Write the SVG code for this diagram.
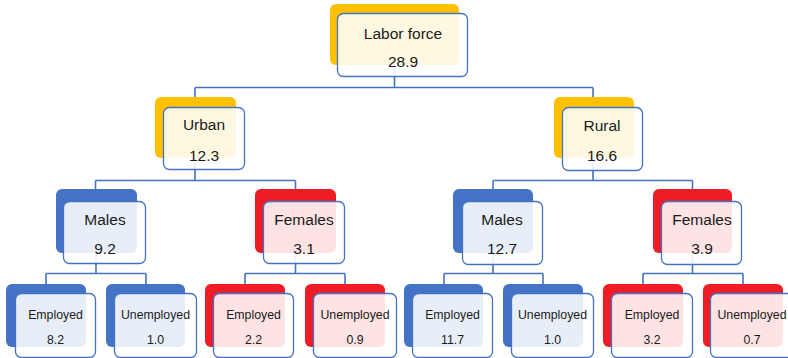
<svg xmlns="http://www.w3.org/2000/svg" width="788" height="358" viewBox="0 0 788 358">
<style>
.bo{fill:#FFC000}
.bb{fill:#4472C4}
.br{fill:#EE1C25}
.fr{fill:#FFFFFF;fill-opacity:0.88;stroke:#4472C4;stroke-width:1.3}
.t{font-family:"Liberation Sans",Arial,sans-serif;font-size:15.5px;fill:#1a1a1a;text-anchor:middle}
.s{font-family:"Liberation Sans",Arial,sans-serif;font-size:12.3px;fill:#1a1a1a;text-anchor:middle}
.c{fill:none;stroke:#4472C4;stroke-width:1.6}
</style>
<rect width="788" height="358" fill="#FFFFFF"/>
<g id="connectors" class="c">
<path d="M394.5,65 V87.5 M195,87.5 H593 M195,87.5 V100 M593,87.5 V100"/>
<path d="M195,158 V180.5 M95.5,180.5 H295.5 M95.5,180.5 V192 M295.5,180.5 V192"/>
<path d="M593,158 V180.5 M493,180.5 H692.5 M493,180.5 V192 M692.5,180.5 V192"/>
<path d="M96,253 V273.5 M46,273.5 H146 M46,273.5 V287 M146,273.5 V287"/>
<path d="M295.5,253 V273.5 M245,273.5 H345 M245,273.5 V287 M345,273.5 V287"/>
<path d="M493,253 V273.5 M444,273.5 H543 M444,273.5 V287 M543,273.5 V287"/>
<path d="M692.5,253 V273.5 M643,273.5 H743 M643,273.5 V287 M743,273.5 V287"/>
</g>
<g id="labor-force">
<rect class="bo" x="330" y="4" width="129" height="61" rx="6"/>
<rect class="fr" x="337.5" y="13.5" width="130" height="63" rx="6"/>
<text class="t" x="403" y="38.5">Labor force</text>
<text class="t" x="403" y="67">28.9</text>
</g>
<g id="urban">
<rect class="bo" x="155" y="97" width="81" height="61" rx="6"/>
<rect class="fr" x="163.5" y="107.5" width="81" height="62" rx="6"/>
<text class="t" x="204" y="129.5">Urban</text>
<text class="t" x="204" y="161">12.3</text>
</g>
<g id="rural">
<rect class="bo" x="554" y="97" width="80" height="61" rx="6"/>
<rect class="fr" x="562.5" y="107.5" width="80" height="63" rx="6"/>
<text class="t" x="602" y="131">Rural</text>
<text class="t" x="602" y="161">16.6</text>
</g>
<g id="urban-males">
<rect class="bb" x="56" y="189" width="81" height="64" rx="6"/>
<rect class="fr" x="63.5" y="201.5" width="82" height="62" rx="6"/>
<text class="t" x="105" y="225">Males</text>
<text class="t" x="105" y="254">9.2</text>
</g>
<g id="urban-females">
<rect class="br" x="255" y="189" width="81" height="64" rx="6"/>
<rect class="fr" x="263.5" y="201.5" width="81" height="62" rx="6"/>
<text class="t" x="304" y="225">Females</text>
<text class="t" x="304" y="254">3.1</text>
</g>
<g id="rural-males">
<rect class="bb" x="453" y="189" width="80" height="64" rx="6"/>
<rect class="fr" x="462.5" y="201.5" width="80" height="63" rx="6"/>
<text class="t" x="502" y="225">Males</text>
<text class="t" x="502" y="254">12.7</text>
</g>
<g id="rural-females">
<rect class="br" x="653" y="189" width="79" height="64" rx="6"/>
<rect class="fr" x="661.5" y="201.5" width="80" height="63" rx="6"/>
<text class="t" x="702" y="225">Females</text>
<text class="t" x="702" y="254">3.9</text>
</g>
<g id="um-employed">
<rect class="bb" x="6" y="284" width="80" height="63" rx="6"/>
<rect class="fr" x="15.5" y="293.5" width="80" height="64" rx="6"/>
<text class="s" x="55.5" y="319">Employed</text>
<text class="s" x="55.5" y="344">8.2</text>
</g>
<g id="um-unemployed">
<rect class="bb" x="106" y="284" width="79" height="63" rx="6"/>
<rect class="fr" x="114.5" y="293.5" width="82" height="64" rx="6"/>
<text class="s" x="155.5" y="319">Unemployed</text>
<text class="s" x="155.5" y="344">1.0</text>
</g>
<g id="uf-employed">
<rect class="br" x="205" y="284" width="80" height="63" rx="6"/>
<rect class="fr" x="213.5" y="293.5" width="80" height="64" rx="6"/>
<text class="s" x="253.5" y="319">Employed</text>
<text class="s" x="253.5" y="344">2.2</text>
</g>
<g id="uf-unemployed">
<rect class="br" x="305" y="284" width="80" height="63" rx="6"/>
<rect class="fr" x="313.5" y="293.5" width="83" height="64" rx="6"/>
<text class="s" x="355" y="319">Unemployed</text>
<text class="s" x="355" y="344">0.9</text>
</g>
<g id="rm-employed">
<rect class="bb" x="404" y="284" width="79" height="63" rx="6"/>
<rect class="fr" x="412.5" y="293.5" width="80" height="64" rx="6"/>
<text class="s" x="452.5" y="319">Employed</text>
<text class="s" x="452.5" y="344">11.7</text>
</g>
<g id="rm-unemployed">
<rect class="bb" x="503" y="284" width="80" height="63" rx="6"/>
<rect class="fr" x="511.5" y="293.5" width="82" height="64" rx="6"/>
<text class="s" x="552.5" y="319">Unemployed</text>
<text class="s" x="552.5" y="344">1.0</text>
</g>
<g id="rf-employed">
<rect class="br" x="603" y="284" width="80" height="63" rx="6"/>
<rect class="fr" x="611.5" y="293.5" width="81" height="64" rx="6"/>
<text class="s" x="652" y="319">Employed</text>
<text class="s" x="652" y="344">3.2</text>
</g>
<g id="rf-unemployed">
<rect class="br" x="703" y="284" width="80" height="63" rx="6"/>
<rect class="fr" x="710.5" y="293.5" width="83" height="64" rx="6"/>
<text class="s" x="752" y="319">Unemployed</text>
<text class="s" x="752" y="344">0.7</text>
</g>
</svg>
